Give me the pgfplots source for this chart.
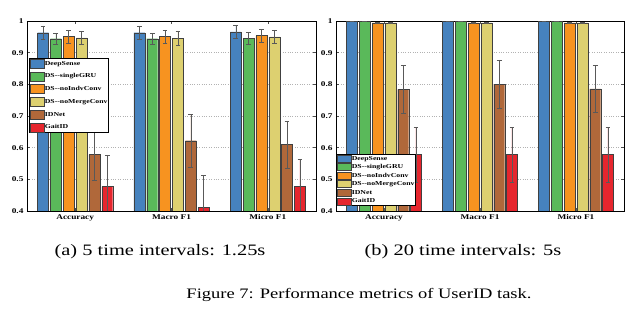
\documentclass[border=0pt]{standalone}
\usepackage{fontspec}
\setmainfont{Liberation Serif}
\newfontfamily\capfont[FakeStretch=1.28]{Liberation Serif}
\usepackage{pgfplots}
\usepackage{pgfplotstable}
\pgfplotsset{compat=1.18}

\definecolor{cDS}{RGB}{70,130,190}
\definecolor{cGRU}{RGB}{90,185,90}
\definecolor{cIndv}{RGB}{247,147,32}
\definecolor{cMerge}{RGB}{221,208,112}
\definecolor{cIDN}{RGB}{176,104,58}
\definecolor{cGait}{RGB}{230,38,46}

% 5 time intervals: 1.25s
\pgfplotstableread{
x ds    dse   gru   grue  indv  indve merge mergee idn   idne  gait  gaite
1 0.963 0.022 0.944 0.018 0.951 0.020 0.947 0.020  0.578 0.080 0.477 0.100
2 0.963 0.022 0.944 0.018 0.951 0.020 0.946 0.021  0.622 0.083 0.412 0.100
3 0.966 0.020 0.946 0.018 0.954 0.020 0.950 0.020  0.610 0.075 0.477 0.086
}\tabA

% 20 time intervals: 5s
\pgfplotstableread{
x ds    dse   gru   grue  indv  indve merge mergee idn   idne  gait  gaite
1 0.999 0.001 0.999 0.001 0.994 0.002 0.994 0.001  0.784 0.075 0.578 0.086
2 0.999 0.001 0.999 0.001 0.994 0.002 0.994 0.001  0.801 0.076 0.578 0.086
3 0.999 0.001 0.999 0.001 0.994 0.002 0.994 0.001  0.786 0.075 0.578 0.086
}\tabB

\def\lgh{4.5bp}

\pgfplotsset{
  barbase/.style={ybar, bar width=0.114, bar shift=0pt, fill=#1, draw=black!75, line width=0.35pt,
    error bars/.cd, y dir=both, y explicit,
    error bar style={line width=0.45pt, draw=black!65},
    error mark options={rotate=90, mark size=2.4bp, line width=0.45pt, draw=black!65},
    /pgfplots/.cd,
    legend image code/.code={\draw[##1,/tikz/.cd] (0bp,-\lgh) rectangle (14bp,\lgh);}
  },
  myaxis/.style={
    anchor=south west, scale only axis, width=289bp, height=190bp,
    xmin=0.5, xmax=3.5, ymin=0.4, ymax=1,
    xtick={1,2,3}, xticklabels={Accuracy,Macro F1,Micro F1},
    ytick={0.4,0.5,0.6,0.7,0.8,0.9,1}, yticklabels={0.4,0.5,0.6,0.7,0.8,0.9,1},
    xtick pos=both, ytick pos=both, xticklabel pos=bottom, yticklabel pos=left,
    tick align=inside, major tick length=3bp,
    ymajorgrids, major grid style={dotted, black!30, line width=0.4pt},
    axis line style={line width=0.7pt},
    tick style={black!70, line width=0.5pt},
    ticklabel style={font=\capfont\bfseries\fontsize{7.3}{8}\selectfont},
    legend style={font=\capfont\bfseries\fontsize{6.1}{7}\selectfont, draw=black,
      line width=0.6pt, anchor=north west, inner sep=0.5bp,
      nodes={inner sep=0.7bp, text height=4.6bp, text depth=1.3bp}},
    legend cell align=left,
  },
}

\begin{document}
\begin{tikzpicture}[x=1bp,y=1bp]
\useasboundingbox (0bp,0bp) rectangle (640bp,321bp);

\begin{axis}[myaxis, at={(27bp,110bp)},
  legend style={at={(axis description cs:0.007,0.805)}, row sep=3.4bp}]
\addplot[barbase=cDS]    table[x expr=\thisrow{x}-0.333,y=ds,y error=dse]{\tabA};
\addplot[barbase=cGRU]   table[x expr=\thisrow{x}-0.2,y=gru,y error=grue]{\tabA};
\addplot[barbase=cIndv]  table[x expr=\thisrow{x}-0.067,y=indv,y error=indve]{\tabA};
\addplot[barbase=cMerge] table[x expr=\thisrow{x}+0.067,y=merge,y error=mergee]{\tabA};
\addplot[barbase=cIDN]   table[x expr=\thisrow{x}+0.2,y=idn,y error=idne]{\tabA};
\addplot[barbase=cGait]  table[x expr=\thisrow{x}+0.333,y=gait,y error=gaite]{\tabA};
\legend{DeepSense,DS--singleGRU,DS--noIndvConv,DS--noMergeConv,IDNet,GaitID}
\end{axis}

\gdef\lgh{3.5bp}
\begin{axis}[myaxis, at={(336bp,110bp)}, width=288bp,
  legend style={at={(axis description cs:0.0,0.3)}, row sep=1.2bp}]
\addplot[barbase=cDS]    table[x expr=\thisrow{x}-0.333,y=ds,y error=dse]{\tabB};
\addplot[barbase=cGRU]   table[x expr=\thisrow{x}-0.2,y=gru,y error=grue]{\tabB};
\addplot[barbase=cIndv]  table[x expr=\thisrow{x}-0.067,y=indv,y error=indve]{\tabB};
\addplot[barbase=cMerge] table[x expr=\thisrow{x}+0.067,y=merge,y error=mergee]{\tabB};
\addplot[barbase=cIDN]   table[x expr=\thisrow{x}+0.2,y=idn,y error=idne]{\tabB};
\addplot[barbase=cGait]  table[x expr=\thisrow{x}+0.333,y=gait,y error=gaite]{\tabB};
\legend{DeepSense,DS--singleGRU,DS--noIndvConv,DS--noMergeConv,IDNet,GaitID}
\end{axis}

\node[font=\capfont\fontsize{16}{18}\selectfont] at (160bp,69bp) {(a) 5 time intervals: 1.25s};
\node[font=\capfont\fontsize{16}{18}\selectfont] at (463bp,69bp) {(b) 20 time intervals: 5s};
\node[font=\capfont\fontsize{14.5}{16}\selectfont] at (359bp,26bp) {Figure 7: Performance metrics of UserID task.};
\end{tikzpicture}
\end{document}
